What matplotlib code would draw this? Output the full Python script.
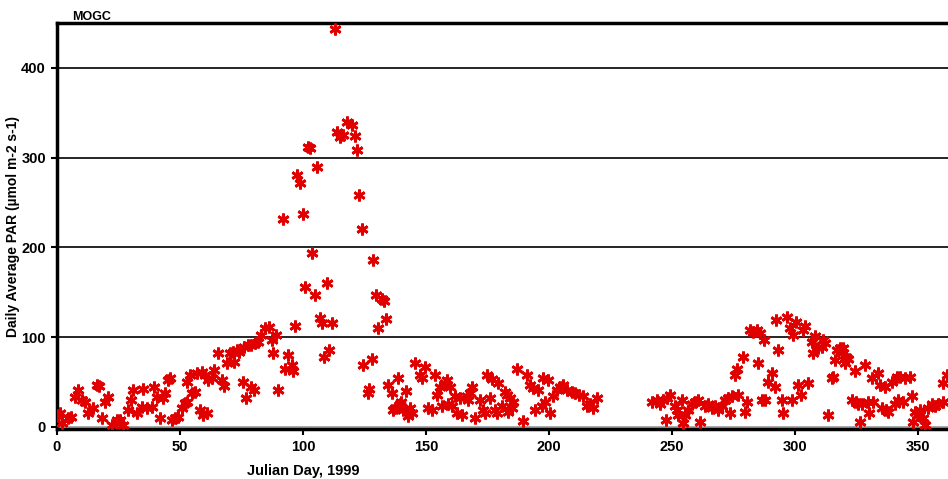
import matplotlib
matplotlib.use('Agg')
import matplotlib.pyplot as plt
import numpy as np

# Daily average PAR at the MOGC site, 1999 (day of year, umol m-2 s-1)
day_winter = [0.4, 1.2, 2, 4.5, 5.7, 7.3, 8.5, 10, 11.4, 12.6, 14.6, 16.3, 17, 18.3,
              19.5, 20.7, 22.4, 24.4, 25.6, 26.9, 28.9, 30, 31, 32.5, 34.5, 35,
              36.6, 38.6, 39.4, 40.7, 41.9, 43, 44, 45, 46, 46.7, 48, 49, 51, 52,
              53, 55, 56, 53, 54, 57, 59, 60, 61.4, 63, 58, 59.5, 61, 64, 65.4, 67,
              68, 69, 70.3, 71.5, 73, 72, 74, 76, 77.6, 79, 80.5, 81.7, 83, 84.5,
              86, 87.4, 88, 89, 75.6, 77, 79, 80, 90]
par_winter = [13, 15, 4, 10, 11, 33, 41, 30, 28, 15, 21, 47, 46, 10,
              28, 33, 2, 8, 8, 2, 19, 30, 41, 15, 22, 42,
              21, 22, 45, 33, 10, 32, 38, 52, 54, 8, 10, 11, 21, 27,
              28, 38, 39, 50, 58, 60, 61, 58, 52, 54, 19, 13, 15, 63, 82, 52,
              46, 71, 82, 84, 86, 72, 84, 89, 91, 91, 93, 95, 102, 110,
              111, 97, 82, 102, 50, 32, 45, 41, 41]

day_spring = [91.7, 92.7, 93.8, 95.4, 96, 96.7, 97.7, 98.8, 99.9, 100.8, 102, 102.8,
              103.5, 104.9, 105.8, 106.9, 107.6, 108.7, 109.6, 110.6, 111.7, 113,
              113.7, 115, 116.4, 117.8, 119.8, 121, 121.8, 122.9, 123.9, 124.5,
              126.3, 127, 127.9, 128.6, 129.7, 130.6, 132, 133, 133.7, 134.7, 136,
              136.7, 137.4, 138.7, 139.4, 140, 140.8, 141.7, 142.8, 143.5, 144.2,
              145.5]
par_spring = [232, 64, 80, 69, 62, 112, 281, 272, 237, 156, 312, 311,
              194, 147, 290, 121, 116, 78, 160, 86, 116, 443,
              329, 323, 325, 340, 336, 324, 308, 258, 221, 69,
              38, 42, 76, 186, 147, 110, 143, 140, 120, 47, 38,
              19, 21, 54, 25, 28, 19, 40, 12, 21, 15,
              71]

day_summer = [147.6, 148.2, 149.6, 151, 152.3, 153.7, 154.3, 155.7, 156.4, 157.7,
              158.4, 159, 159.8, 160.4, 161.8, 162.5, 163.8, 164.5, 166.5, 167,
              167.9, 168.6, 169.9, 172, 173.3, 174, 174.7, 176, 176.7, 178, 178.7,
              179.4, 180.7, 182, 182.8, 184.1, 184.8, 185.5, 183.5, 186.9, 189.3,
              190.9, 192.3, 193.6, 194.3, 195.7, 197, 197.7, 198.4, 199.7, 200.4,
              201.7, 203.1, 204.5, 205.8, 207.2, 209.2, 210.6, 212, 213.9, 215.3,
              216.7, 218, 219.4]
par_summer = [58, 54, 67, 21, 19, 58, 36, 45, 23, 49,
              52, 25, 45, 23, 34, 15, 32, 13, 34, 30,
              38, 45, 10, 30, 19, 15, 58, 32, 53, 19, 15,
              49, 23, 39, 36, 32, 21, 28, 17, 65, 7,
              58, 47, 43, 19, 41, 23, 54, 28, 52, 15,
              34, 41, 45, 47, 41, 39, 38, 36, 34, 23,
              25, 21, 32]

day_autumn = [241.7, 243.8, 245.1, 246.5, 247.5, 247.8, 249.2, 251.2, 251.9, 252.6,
              253.9, 254.6, 255.3, 256.6, 258, 259.3, 260.7, 261.4, 263.4, 264.8,
              266.1, 267.5, 268.8, 270.2, 271.5, 272.9, 273.6, 274.2, 275.6, 276.3,
              277, 278.9, 279.7, 280.3, 281.7, 283, 284.4, 284.8, 285.8, 286.4,
              287.5, 287.8, 289.2, 290.5, 291.9, 292.1, 293.2, 294.6, 295.3, 296.6,
              298, 298.6, 299.3, 300.4, 301.3, 302.4, 303.4, 304, 305.4, 306.8,
              307.4, 308.1, 309.5, 310.8, 311.5, 312.2, 313.5, 314.9, 315.6, 316.3,
              316.9, 318.3, 319, 319.6, 320.3, 320.9, 321.7, 323, 324.4, 324.6,
              325.7, 326.4, 327.1, 328.5, 329.8, 330.2, 331.2, 331.8, 333.6, 334.5,
              335.2, 336.6, 336.9, 337.9, 339.3, 340.6, 341.3, 342, 342.7, 344,
              344.7, 346.7, 347.4, 348, 348.8, 350.1, 350.8, 352.2, 352.8, 354.2,
              355.6, 357, 358.3, 360, 360.3, 361.8]
par_autumn = [28, 30, 26, 30, 8, 32, 36, 23, 19, 13,
              30, 4, 13, 19, 25, 28, 30, 6, 23, 25,
              21, 23, 19, 23, 30, 32, 15, 34, 58, 65,
              36, 78, 17, 28, 108, 106, 108, 71, 105, 30,
              97, 30, 50, 60, 45, 119, 86, 30, 15, 123,
              110, 30, 102, 117, 47, 36, 108, 112, 49, 95,
              82, 101, 88, 89, 97, 93, 13, 54, 56, 75,
              86, 88, 82, 88, 71, 78, 76, 30, 62, 28,
              26, 6, 25, 69, 28, 15, 54, 28, 60, 47,
              21, 45, 19, 17, 50, 25, 56, 30, 56, 28,
              54, 56, 34, 6, 17, 13, 19, 10, 2, 21,
              25, 23, 25, 49, 28, 58]

y_ticks = [0, 100, 200, 300, 400]
x_ticks = [0, 50, 100, 150, 200, 250, 300, 350]

plt.rcParams['font.family'] = ['Liberation Sans', 'DejaVu Sans']

fig = plt.figure(figsize=(9.48, 4.79), dpi=100)
ax = fig.add_axes([0.0601, 0.104, 0.9399, 0.848])

days = day_winter + day_spring + day_summer + day_autumn
par = par_winter + par_spring + par_summer + par_autumn
ax.plot(days, par, linestyle='none', marker=(6, 2, 0), markersize=8.5,
        markeredgewidth=2.0, color='#e00000', markeredgecolor='#e00000', zorder=3)

ax.set_xlim(0, 362.2)
ax.set_ylim(-2.5, 450)

# horizontal grid at the major y ticks
for yv in y_ticks[1:]:
    ax.axhline(yv, color='black', linewidth=1.2, zorder=1)
ax.axhline(0, color='#999999', linewidth=1.2, zorder=1)

ax.set_xticks(x_ticks)
ax.set_yticks(y_ticks)
ax.tick_params(axis='both', direction='out', length=4, width=1.5,
               labelsize=10.5, pad=4)
for lbl in ax.get_xticklabels() + ax.get_yticklabels():
    lbl.set_fontweight('bold')

for side in ['left', 'bottom', 'top']:
    ax.spines[side].set_linewidth(2.5)
ax.spines['right'].set_visible(False)

ax.set_ylabel('Daily Average PAR (\u00b5mol m-2 s-1)', fontsize=10,
              fontweight='bold')
ax.yaxis.set_label_coords(-0.041, 0.5)
ax.set_xlabel('Julian Day, 1999', fontsize=10.5, fontweight='bold')
ax.xaxis.set_label_coords(0.276, -0.085)

fig.text(72 / 948, 1 - 17 / 479, 'MOGC', fontsize=9, fontweight='bold',
         va='center', ha='left')

fig.savefig('out.png', dpi=100, facecolor='white')
